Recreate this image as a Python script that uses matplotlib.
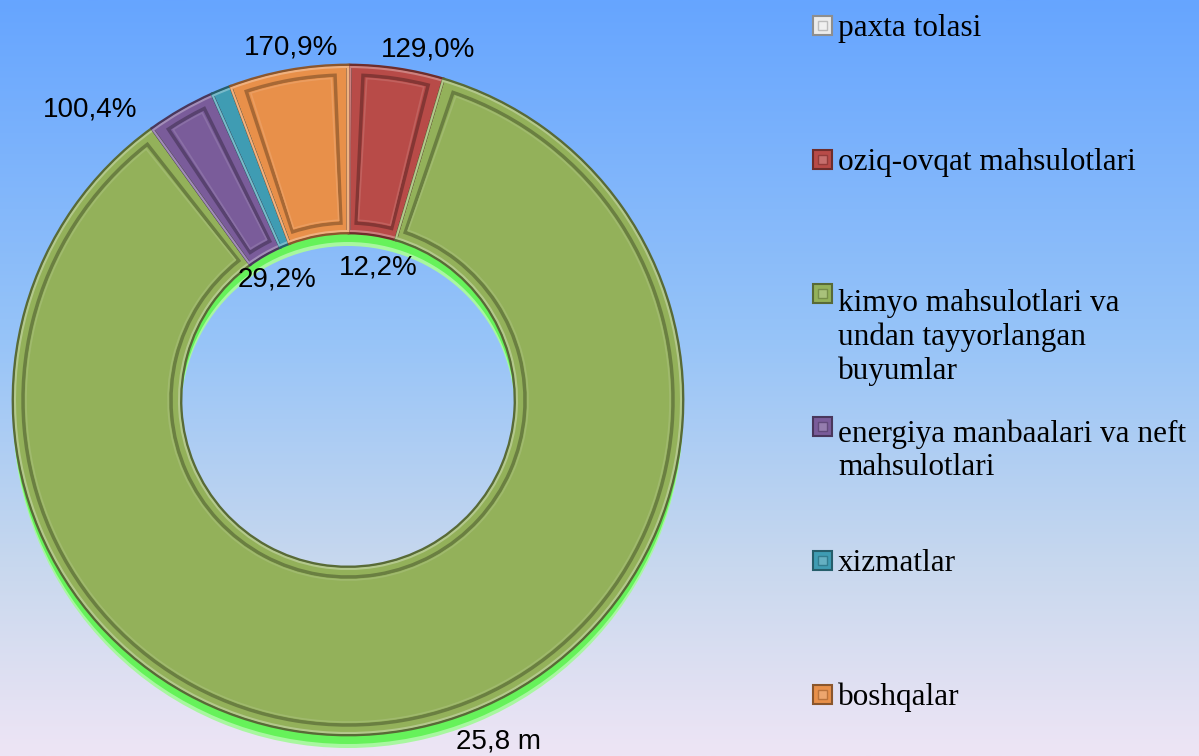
import numpy as np
import matplotlib.pyplot as plt
import matplotlib.colors as mcolors
from matplotlib.patches import Wedge, Rectangle

categories = ['paxta tolasi', 'oziq-ovqat mahsulotlari',
              'kimyo mahsulotlari va\nundan tayyorlangan\nbuyumlar',
              'energiya manbaalari va neft\nmahsulotlari', 'xizmatlar', 'boshqalar']
shares = [0.1, 4.5, 85.4, 3.3, 0.95, 5.7]
slice_colors = ['#ececec', '#b84b48', '#93b15a', '#7a5c9a', '#3f9cb3', '#e8904a']

# Value labels printed around the ring
value_labels = ['170,9%', '129,0%', '100,4%', '29,2%', '12,2%', '25,8 m']
value_label_pos = [(291, 48), (428, 50), (90, 110), (277, 280), (378, 267), (499, 742)]

W, H = 1199, 756
fig = plt.figure(figsize=(W / 100, H / 100), dpi=100)
ax = fig.add_axes([0, 0, 1, 1])

# background gradient
stops = [(0.0, '#66a5ff'), (0.45, '#97c4f8'), (0.75, '#c8d8ee'), (1.0, '#eee5f5')]
cmap = mcolors.LinearSegmentedColormap.from_list('bg', stops)
grad = np.linspace(0, 1, 256).reshape(-1, 1)
ax.imshow(grad, cmap=cmap, extent=[0, W, 0, H], aspect='auto', origin='upper', zorder=0)

cx, cy = 348, H - 400
R, ring = 335, 168

# bright green shadow under the ring
ax.pie([1], colors=['#a8f7a0'], center=(cx, cy - 13), radius=R,
       wedgeprops=dict(width=ring, linewidth=0), frame=True)
ax.pie([1], colors=['#66f25a'], center=(cx, cy - 9), radius=R,
       wedgeprops=dict(width=ring, linewidth=0), frame=True)

def shade(c, f):
    rgb = np.array(mcolors.to_rgb(c))
    return tuple(np.clip(rgb * f, 0, 1)) if f < 1 else tuple(rgb + (1 - rgb) * (f - 1))

wedges, _ = ax.pie(shares, colors=slice_colors, startangle=90, counterclock=False,
                   center=(cx, cy), radius=R,
                   wedgeprops=dict(width=ring, linewidth=0), frame=True)

# bevel look: dark outline, light rim, dark inner frame
for w, col in zip(wedges, slice_colors):
    w.set_zorder(2)
    t1, t2 = w.theta1, w.theta2
    ax.add_patch(Wedge((cx, cy), R, t1, t2, width=ring, fill=False,
                       edgecolor=shade(col, 0.6), lw=2.0, zorder=3))
    ax.add_patch(Wedge((cx, cy), R - 2, t1, t2, width=ring - 4, fill=False,
                       edgecolor=shade(col, 1.3), lw=1.5, zorder=3))
    span = t2 - t1
    d = 10
    dth = np.degrees(d / (R - ring / 2))
    if span > 2 * dth + 2:
        ax.add_patch(Wedge((cx, cy), R - d, t1 + dth, t2 - dth, width=ring - 2 * d,
                           fill=False, edgecolor=shade(col, 0.72), lw=2.5, zorder=3))
        ax.add_patch(Wedge((cx, cy), R - d - 3, t1 + dth * 1.3, t2 - dth * 1.3,
                           width=ring - 2 * d - 6, fill=False,
                           edgecolor=shade(col, 1.12), lw=1.2, zorder=3))

for txt, (x, y) in zip(value_labels, value_label_pos):
    ax.text(x, H - y, txt, ha='center', va='center', fontsize=20,
            family='Liberation Sans', color='black', zorder=5)

# legend drawn by hand: equal spacing between first-line baselines
base0, step = 36, 133.8
fs = 22.5
line_px = 1.2 * fs * 100 / 72
for i, (lab, col) in enumerate(zip(categories, slice_colors)):
    yb = H - (base0 + step * i)
    nl = lab.count('\n')
    ax.add_patch(Rectangle((813, yb + 1), 19, 19, facecolor=col,
                           edgecolor=shade(col, 0.6), lw=1.5, zorder=4))
    ax.add_patch(Rectangle((818, yb + 6), 9, 9, facecolor=shade(col, 1.2),
                           edgecolor=shade(col, 0.8), lw=1, zorder=4))
    ax.text(838, yb - nl * line_px, lab, ha='left', va='baseline', fontsize=fs,
            family='Liberation Serif', color='black', linespacing=1.2, zorder=5)

ax.set_xlim(0, W)
ax.set_ylim(0, H)
ax.set_aspect('auto')
ax.axis('off')

fig.savefig('out.png', dpi=100)
